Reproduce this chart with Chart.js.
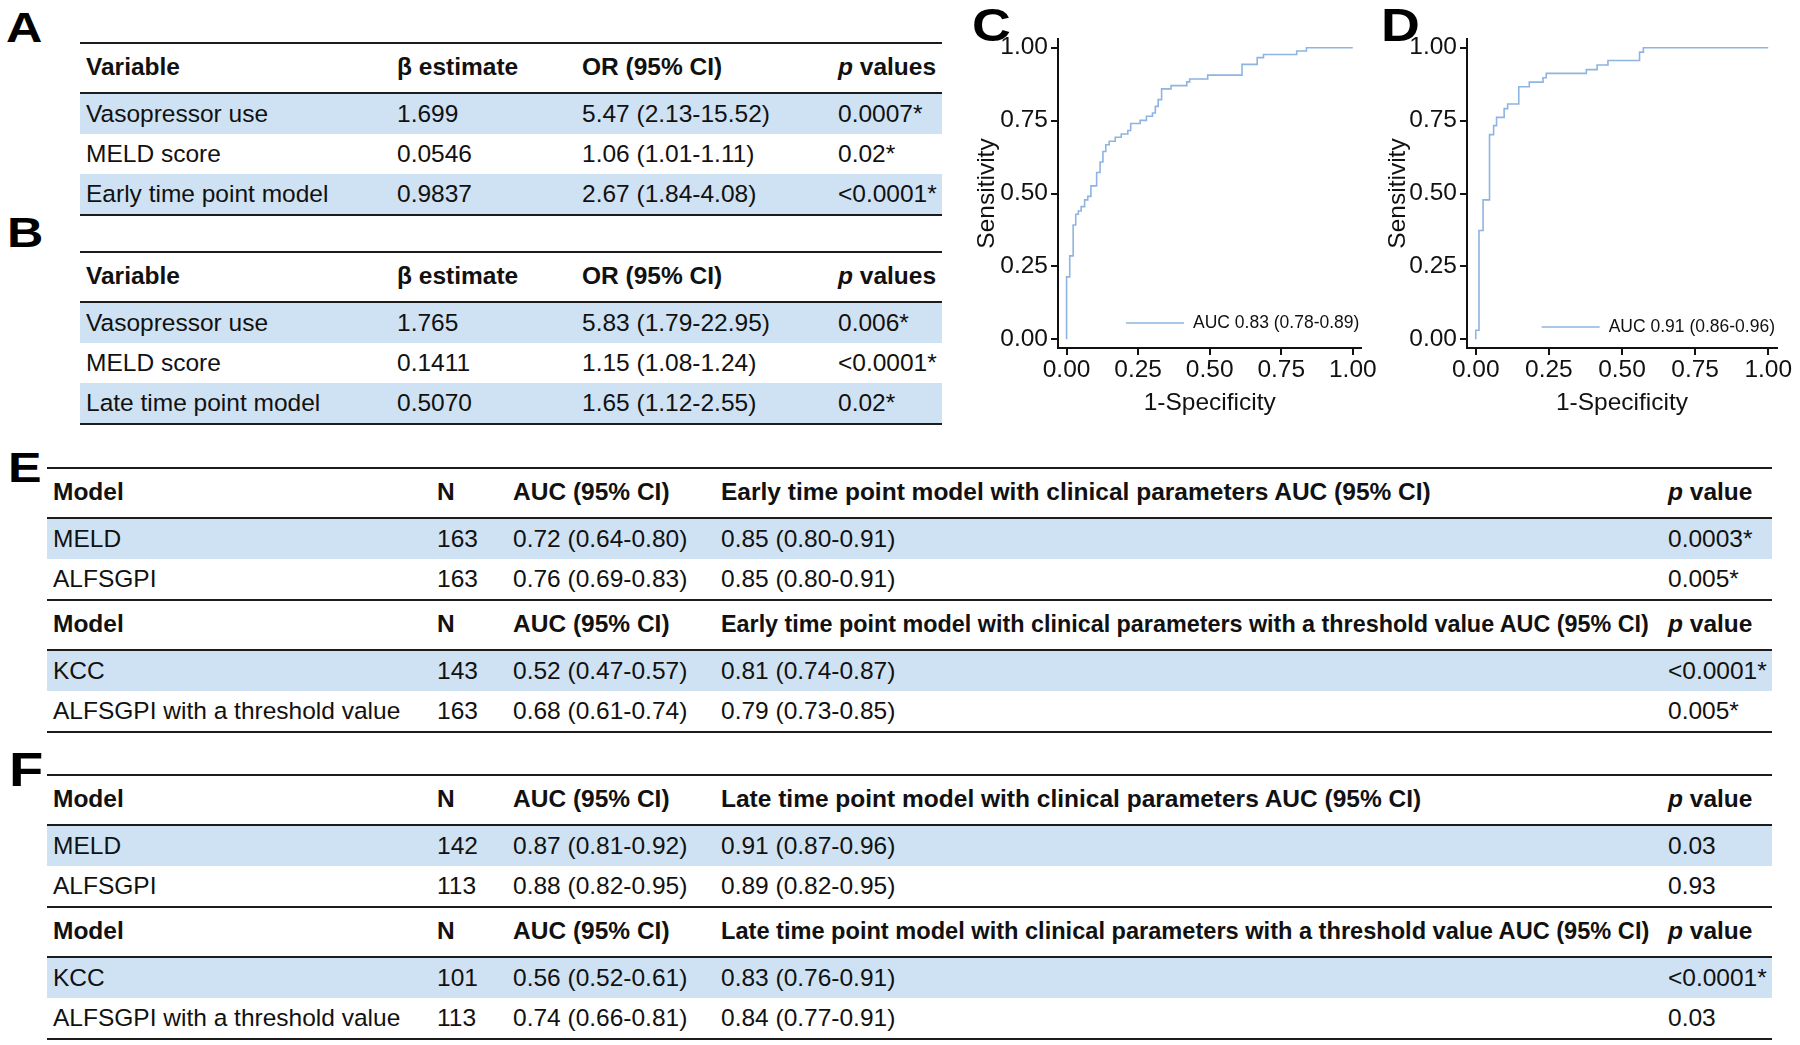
<!DOCTYPE html>
<html>
<head>
<meta charset="utf-8">
<script src="https://cdn.jsdelivr.net/npm/chart.js@4.4.0/dist/chart.umd.min.js"></script>
<style>
body { margin: 0; background: #fff; width: 1800px; height: 1045px; overflow: hidden; position: relative;
       font-family: "Liberation Sans", Arial, Helvetica, sans-serif; color: #111; }
.t { position: absolute; white-space: nowrap; font-size: 24.5px; transform-origin: left center; }
.ln { position: absolute; height: 2px; background: #1c1c1c; }
.band { position: absolute; height: 40px; background: #cfe2f3; }
.lbl { position: absolute; font-weight: bold; line-height: 1; color: #000; transform-origin: left top; }
canvas { position: absolute; }
</style>
</head>
<body>
<canvas id="rocC" width="420" height="430" style="left:960px;top:0"></canvas>
<canvas id="rocD" width="420" height="430" style="left:1380px;top:0"></canvas>
<script>
var tickVals = [0, 0.25, 0.5, 0.75, 1];

var rocCFpr = [0, 0, 0.011, 0.023, 0.032, 0.041, 0.051, 0.063, 0.074, 0.085, 0.105, 0.117, 0.127, 0.137, 0.149,
    0.170, 0.191, 0.214, 0.224, 0.257, 0.279, 0.300, 0.310, 0.320, 0.332, 0.365, 0.420, 0.430, 0.493, 0.613,
    0.666, 0.688, 0.804, 0.838, 1.0];
var rocCTpr = [0, 0.214, 0.286, 0.392, 0.429, 0.440, 0.455, 0.478, 0.490, 0.526, 0.572, 0.608, 0.644, 0.667, 0.679,
    0.693, 0.704, 0.716, 0.740, 0.751, 0.765, 0.776, 0.799, 0.822, 0.859, 0.870, 0.883, 0.893, 0.906, 0.943,
    0.966, 0.977, 0.989, 1.0, 1.0];

var rocDFpr = [0, 0, 0.011, 0.025, 0.047, 0.061, 0.071, 0.097, 0.109, 0.147, 0.183, 0.230, 0.241, 0.378, 0.415,
    0.452, 0.560, 0.573, 1.0];
var rocDTpr = [0, 0.031, 0.373, 0.478, 0.702, 0.733, 0.761, 0.791, 0.807, 0.866, 0.882, 0.897, 0.912, 0.925, 0.941,
    0.956, 0.985, 1.0, 1.0];

var aucC = 'AUC 0.83 (0.78-0.89)';
var aucD = 'AUC 0.91 (0.86-0.96)';

// tables A and B
var headAB = ['Variable', 'β estimate', 'OR (95% CI)', '<i>p</i> values'];
var rowsA = [
    ['Vasopressor use', '1.699', '5.47 (2.13-15.52)', '0.0007*'],
    ['MELD score', '0.0546', '1.06 (1.01-1.11)', '0.02*'],
    ['Early time point model', '0.9837', '2.67 (1.84-4.08)', '<0.0001*']
];
var rowsB = [
    ['Vasopressor use', '1.765', '5.83 (1.79-22.95)', '0.006*'],
    ['MELD score', '0.1411', '1.15 (1.08-1.24)', '<0.0001*'],
    ['Late time point model', '0.5070', '1.65 (1.12-2.55)', '0.02*']
];

// tables E and F
var headE1 = ['Model', 'N', 'AUC (95% CI)', 'Early time point model with clinical parameters AUC (95% CI)', '<i>p</i> value'];
var rowsE1 = [
    ['MELD', '163', '0.72 (0.64-0.80)', '0.85 (0.80-0.91)', '0.0003*'],
    ['ALFSGPI', '163', '0.76 (0.69-0.83)', '0.85 (0.80-0.91)', '0.005*']
];
var headE2 = ['Model', 'N', 'AUC (95% CI)', 'Early time point model with clinical parameters with a threshold value AUC (95% CI)', '<i>p</i> value'];
var rowsE2 = [
    ['KCC', '143', '0.52 (0.47-0.57)', '0.81 (0.74-0.87)', '<0.0001*'],
    ['ALFSGPI with a threshold value', '163', '0.68 (0.61-0.74)', '0.79 (0.73-0.85)', '0.005*']
];
var headF1 = ['Model', 'N', 'AUC (95% CI)', 'Late time point model with clinical parameters AUC (95% CI)', '<i>p</i> value'];
var rowsF1 = [
    ['MELD', '142', '0.87 (0.81-0.92)', '0.91 (0.87-0.96)', '0.03'],
    ['ALFSGPI', '113', '0.88 (0.82-0.95)', '0.89 (0.82-0.95)', '0.93']
];
var headF2 = ['Model', 'N', 'AUC (95% CI)', 'Late time point model with clinical parameters with a threshold value AUC (95% CI)', '<i>p</i> value'];
var rowsF2 = [
    ['KCC', '101', '0.56 (0.52-0.61)', '0.83 (0.76-0.91)', '<0.0001*'],
    ['ALFSGPI with a threshold value', '113', '0.74 (0.66-0.81)', '0.84 (0.77-0.91)', '0.03']
];

var FONT = '"Liberation Sans", Arial, Helvetica, sans-serif';
var LINE_COLOR = '#8db4e2';

function addDiv(cls, x, y, w, h) {
    var d = document.createElement('div');
    d.className = cls;
    d.style.left = x + 'px';
    d.style.top = y + 'px';
    if (w != null) d.style.width = w + 'px';
    if (h != null) d.style.height = h + 'px';
    document.body.appendChild(d);
    return d;
}

// maxW: squeeze the text horizontally if it would run into the next column
function cell(x, y, h, txt, bold, maxW) {
    var d = addDiv('t', x, y, null, h);
    d.style.lineHeight = h + 'px';
    if (bold) { d.style.fontWeight = 'bold'; d.innerHTML = txt; }
    else d.textContent = txt;
    if (maxW && d.offsetWidth > maxW) d.style.transform = 'scaleX(' + (maxW / d.offsetWidth) + ')';
}

function buildTable(y, left, right, cols, sections) {
    addDiv('ln', left, y, right - left);
    sections.forEach(function (sec) {
        sec.head.forEach(function (h, i) {
            var maxW = i < cols.length - 1 ? cols[i + 1] - cols[i] - 19 : null;
            cell(cols[i], y + 2, 46, h, true, maxW);
        });
        y += 50;
        addDiv('ln', left, y, right - left);
        y += 2;
        sec.rows.forEach(function (r, k) {
            if (k % 2 === 0) addDiv('band', left, y, right - left);
            r.forEach(function (c, i) { cell(cols[i], y, 40, c, false); });
            y += 40;
        });
        addDiv('ln', left, y, right - left);
    });
}

var colsAB = [86, 397, 582, 838];
var colsEF = [53, 437, 513, 721, 1668];
buildTable(42, 80, 942, colsAB, [{head: headAB, rows: rowsA}]);
buildTable(251, 80, 942, colsAB, [{head: headAB, rows: rowsB}]);
buildTable(467, 47, 1772, colsEF, [{head: headE1, rows: rowsE1}, {head: headE2, rows: rowsE2}]);
buildTable(774, 47, 1772, colsEF, [{head: headF1, rows: rowsF1}, {head: headF2, rows: rowsF2}]);

// panel letters: letter, left, top, font size
[['A', 6, 6, 43], ['B', 7, 211, 43], ['C', 972, 2, 46], ['D', 1381, 2, 46],
 ['E', 8, 446, 43], ['F', 9, 746, 48]].forEach(function (p) {
    var d = addDiv('lbl', p[1], p[2]);
    d.style.fontSize = p[3] + 'px';
    d.style.transform = 'scaleX(1.17)';
    d.textContent = p[0];
});

// legend drawn inside the plot area, bottom right
var aucLegend = {
    id: 'aucLegend',
    afterDraw: function (chart, args, o) {
        var ctx = chart.ctx, a = chart.chartArea;
        ctx.save();
        ctx.font = '17.5px ' + FONT;
        ctx.fillStyle = '#111';
        ctx.textBaseline = 'middle';
        ctx.textAlign = 'right';
        var y = a.bottom - o.dy, xr = a.right - 2;
        var w = ctx.measureText(o.text).width;
        ctx.fillText(o.text, xr, y);
        ctx.strokeStyle = LINE_COLOR;
        ctx.lineWidth = 1.6;
        ctx.beginPath();
        ctx.moveTo(xr - w - 67, y);
        ctx.lineTo(xr - w - 9, y);
        ctx.stroke();
        ctx.restore();
    }
};

function setTicks(s) {
    s.ticks = tickVals.map(function (v) { return {value: v}; });
}

function axisOpts(title, titlePad, fit) {
    return {
        type: 'linear', min: -0.03, max: 1.03,
        afterBuildTicks: setTicks,
        afterFit: fit,
        grid: {drawOnChartArea: false, drawTicks: true, tickLength: 7, color: '#111', lineWidth: 2},
        border: {display: true, color: '#111', width: 2},
        ticks: {
            color: '#111', padding: 3, autoSkip: false, maxRotation: 0,
            font: {family: FONT, size: 24.5, lineHeight: 1},
            callback: function (v) { return Number(v).toFixed(2); }
        },
        title: {display: true, text: title, color: '#111', padding: titlePad,
                font: {family: FONT, size: 24.5, lineHeight: 1}}
    };
}

function rocChart(id, fpr, tpr, auc, yWidth, yTitlePad, padRight, legendDy) {
    var pts = fpr.map(function (x, i) { return {x: x, y: tpr[i]}; });
    return new Chart(document.getElementById(id), {
        type: 'line',
        data: {
            datasets: [{
                data: pts, borderColor: LINE_COLOR, borderWidth: 1.6,
                pointRadius: 0, stepped: 'before', fill: false
            }]
        },
        options: {
            responsive: false, animation: false, devicePixelRatio: 1,
            layout: {padding: {top: 39, right: padRight, left: 0, bottom: 0}},
            plugins: {
                legend: {display: false},
                tooltip: {enabled: false},
                aucLegend: {text: auc, dy: legendDy}
            },
            scales: {
                x: axisOpts('1-Specificity', {top: 0, bottom: 15}, function (s) { s.height = 82; }),
                y: axisOpts('Sensitivity', {top: yTitlePad, bottom: 0}, function (s) { s.width = yWidth; })
            }
        },
        plugins: [aucLegend]
    });
}

rocChart('rocC', rocCFpr, rocCTpr, aucC, 98, 15, 13, 25);
rocChart('rocD', rocDFpr, rocDTpr, aucD, 87, 6, 23, 21);
</script>
</body>
</html>
